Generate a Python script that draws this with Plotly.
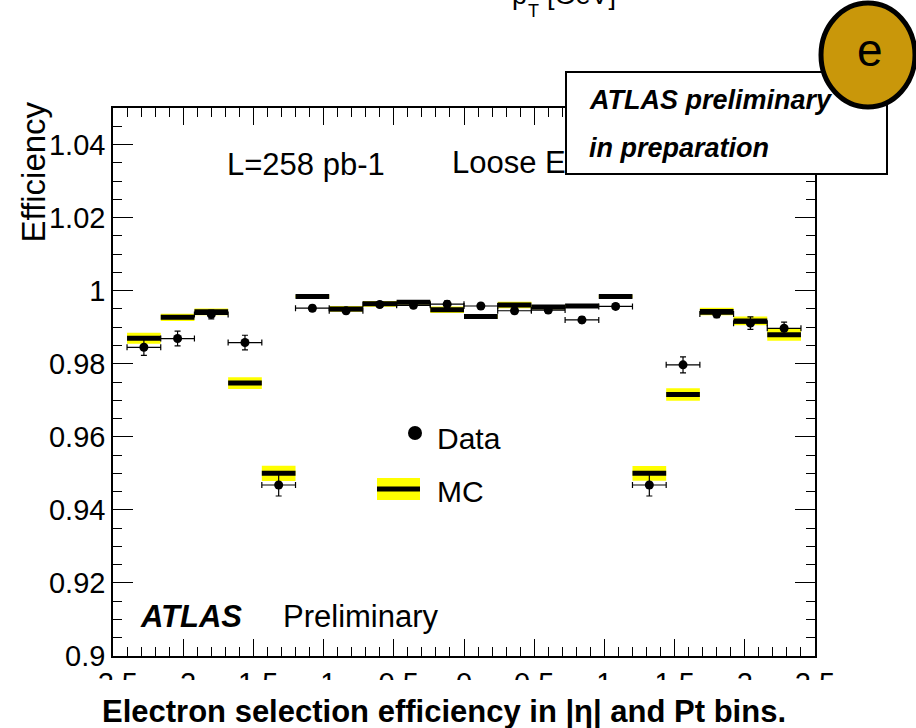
import plotly.graph_objects as go

# Electron selection efficiency vs eta: data (points) and MC (line + yellow band)
eta_edges = [-2.4, -2.16, -1.92, -1.68, -1.44, -1.2, -0.96, -0.72, -0.48, -0.24, 0.0,
             0.24, 0.48, 0.72, 0.96, 1.2, 1.44, 1.68, 1.92, 2.16, 2.4]

mc_eff = [0.9870, 0.9927, 0.9942, 0.9747, 0.9500, 0.9984, 0.9950, 0.9964, 0.9968, 0.9948,
          0.9929, 0.9961, 0.9955, 0.9958, 0.9984, 0.9500, 0.9716, 0.9943, 0.9917, 0.9879]
mc_err = [0.0015, 0.0010, 0.0009, 0.0016, 0.0021, 0.0004, 0.0008, 0.0008, 0.0006, 0.0009,
          0.0006, 0.0009, 0.0006, 0.0005, 0.0004, 0.0020, 0.0017, 0.0010, 0.0012, 0.0016]

data_eff = [0.9845, 0.9869, 0.9935, 0.9858, 0.9468, 0.9952, 0.9945, 0.9962, 0.9960, 0.9963,
            0.9958, 0.9945, 0.9947, 0.9920, 0.9957, 0.9468, 0.9797, 0.9936, 0.9911, 0.9897]
data_err = [0.0022, 0.0020, 0.0012, 0.0020, 0.0030, 0.0008, 0.0008, 0.0007, 0.0007, 0.0009,
            0.0007, 0.0008, 0.0008, 0.0008, 0.0007, 0.0030, 0.0022, 0.0010, 0.0017, 0.0017]

x_tickvals = [-2.5, -2.0, -1.5, -1.0, -0.5, 0.0, 0.5, 1.0, 1.5, 2.0, 2.5]
x_ticktext = ["-2.5", "-2", "-1.5", "-1", "-0.5", "0", "0.5", "1", "1.5", "2", "2.5"]
y_tickvals = [0.90, 0.92, 0.94, 0.96, 0.98, 1.00, 1.02, 1.04]
y_ticktext = ["0.9", "0.92", "0.94", "0.96", "0.98", "1", "1.02", "1.04"]

FONT = "Liberation Sans, Arial, Helvetica, sans-serif"
W, H = 916, 728
ML, MR, MT, MB = 113, 101, 108, 72
PW, PH = W - ML - MR, H - MT - MB


def px(x):
    return (x - ML) / PW


def py(y):
    return (H - MB - y) / PH


lo = eta_edges[:-1]
hi = eta_edges[1:]
centers = [(a + b) / 2 for a, b in zip(lo, hi)]
widths = [b - a for a, b in zip(lo, hi)]
half_w = [w / 2 for w in widths]

fig = go.Figure()

# MC uncertainty band
fig.add_trace(go.Bar(
    x=centers,
    y=[2 * e for e in mc_err],
    base=[m - e for m, e in zip(mc_eff, mc_err)],
    width=widths,
    marker=dict(color="#FFFF00", line=dict(width=0)),
    hoverinfo="skip",
))

# MC central value, one horizontal segment per bin
mc_x, mc_y = [], []
for a, b, m in zip(lo, hi, mc_eff):
    mc_x += [a, b, None]
    mc_y += [m, m, None]
fig.add_trace(go.Scatter(x=mc_x, y=mc_y, mode="lines",
                         line=dict(color="black", width=5)))

# Data points with bin-width and statistical error bars
fig.add_trace(go.Scatter(
    x=centers, y=data_eff, mode="markers",
    marker=dict(color="black", size=9),
    error_x=dict(type="data", array=half_w, color="black", thickness=1.2, width=3),
    error_y=dict(type="data", array=data_err, color="black", thickness=1.2, width=3),
))

# Selection label (sits underneath the preliminary box)
fig.add_trace(go.Scatter(
    x=[-2.5 + (452 - ML) * 5.0 / PW], y=[1.05 - (165 - MT) * 0.15 / PH],
    mode="text", text=["Loose Electron"], textposition="middle right",
    textfont=dict(family=FONT, size=31, color="black"), hoverinfo="skip",
))

axis_common = dict(
    showline=True, linecolor="black", linewidth=1.5, mirror="ticks",
    ticks="inside", tickcolor="black", tickwidth=1.2,
    showgrid=False, zeroline=False,
    tickfont=dict(family=FONT, size=29, color="black"),
)

fig.update_xaxes(
    range=[-2.5, 2.5], tickmode="array", tickvals=x_tickvals, ticktext=x_ticktext,
    ticklen=17,
    minor=dict(ticks="inside", ticklen=9, tick0=-2.5, dtick=0.1, tickcolor="black",
               tickwidth=1.2, showgrid=False),
    **axis_common,
)
fig.update_yaxes(
    range=[0.9, 1.05], tickmode="array", tickvals=y_tickvals, ticktext=y_ticktext,
    ticklen=20,
    minor=dict(ticks="inside", ticklen=9, tick0=0.9, dtick=0.005, tickcolor="black",
               tickwidth=1.2, showgrid=False),
    **axis_common,
)

shapes = [
    # mask that trims the lower half of the x tick labels
    dict(type="rect", xref="paper", yref="paper", x0=-0.3, x1=1.3,
         y0=py(680), y1=py(740), fillcolor="white", line=dict(width=0), layer="above"),
    # "preliminary" box
    dict(type="rect", xref="paper", yref="paper", x0=px(566), x1=px(887),
         y0=py(174), y1=py(72), fillcolor="white",
         line=dict(color="black", width=2), layer="above"),
    # "e" badge
    dict(type="circle", xref="paper", yref="paper", x0=px(821), x1=px(915),
         y0=py(107), y1=py(3), fillcolor="#C9970A",
         line=dict(color="black", width=5), layer="above"),
    # legend: data marker
    dict(type="circle", xref="paper", yref="paper", x0=px(408), x1=px(422),
         y0=py(440), y1=py(426), fillcolor="black", line=dict(width=0), layer="above"),
    # legend: MC band and line
    dict(type="rect", xref="paper", yref="paper", x0=px(377), x1=px(420),
         y0=py(500), y1=py(478), fillcolor="#FFFF00", line=dict(width=0), layer="above"),
    dict(type="line", xref="paper", yref="paper", x0=px(377), x1=px(420),
         y0=py(489), y1=py(489), line=dict(color="black", width=5), layer="above"),
]


def label(text, x, y, size=29, xanchor="left", yanchor="middle", **kw):
    return dict(text=text, xref="paper", yref="paper", x=px(x), y=py(y),
                xanchor=xanchor, yanchor=yanchor, showarrow=False,
                font=dict(family=FONT, size=size, color="black"), **kw)


annotations = [
    label("Efficiency", 33, 100, size=33, xanchor="center", yanchor="top", textangle=-90),
    label("L=258 pb-1", 225, 165, size=31),
    label("<b><i>ATLAS preliminary</i></b>", 587, 100, size=27),
    label("<b><i>in preparation</i></b>", 587, 148, size=27),
    label("e", 870, 50, size=46, xanchor="center"),
    label("Data", 435, 438, size=30),
    label("MC", 435, 491, size=30),
    label("<b><i>ATLAS</i></b>", 138, 616, size=31),
    label("Preliminary", 281, 616, size=31),
    # axis title of the panel above, mostly outside the page
    label("p", 510, -5, size=27),
    label("T", 526, 11, size=18),
    label("[GeV]", 545, -5, size=27),
    label("<b>Electron selection efficiency in |η| and Pt bins.</b>", 444, 711,
          size=31, xanchor="center"),
]

fig.update_layout(
    width=W, height=H, autosize=False,
    margin=dict(l=ML, r=MR, t=MT, b=MB),
    paper_bgcolor="white", plot_bgcolor="white",
    showlegend=False, shapes=shapes, annotations=annotations,
    font=dict(family=FONT, color="black"),
)

fig.write_html("out.html")
